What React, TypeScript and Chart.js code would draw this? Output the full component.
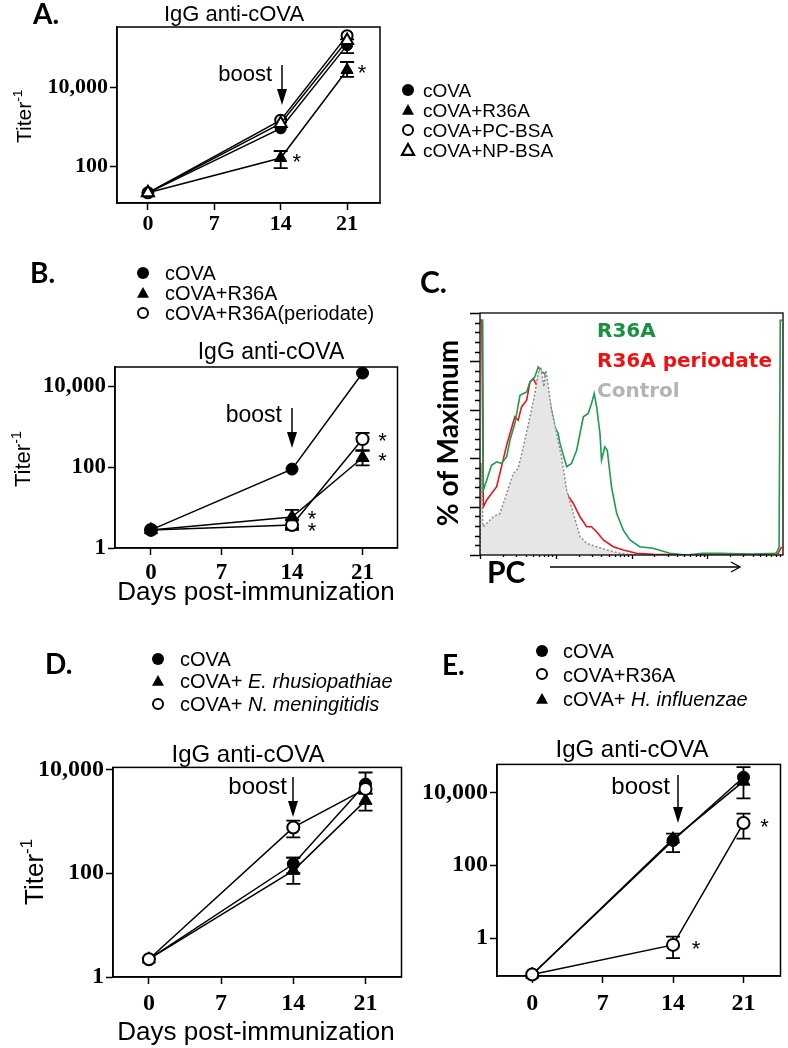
import React, { useEffect, useRef } from 'react';
import { Chart, registerables } from 'chart.js';
Chart.register(...registerables);

// ---------------- DATA ----------------
const days = [0, 14, 21];
const dayTicks = [0, 7, 14, 21];
const titerTicks = [1, 100, 10000];

// Panel A
const aCOVA = [21, 900, 115000];
const aCOVALow = [null, null, 72000];
const aCOVAHigh = [null, null, 160000];
const aR36A = [21, 160, 27000];
const aR36ALow = [null, 89, 18000];
const aR36AHigh = [null, 240, 43000];
const aPCBSA = [21, 1450, 200000];
const aNPBSA = [21, 1200, 150000];

// Panel B
const bCOVA = [2.8, 89, 21000];
const bR36A = [2.8, 5.8, 170];
const bR36ALow = [null, 3.1, 110];
const bR36AHigh = [null, 8.7, 260];
const bPeriodate = [2.8, 3.7, 490];
const bPeriodateLow = [null, 2.8, 250];
const bPeriodateHigh = [null, 5.0, 700];

// Panel D
const dCOVA = [2.2, 150, 5200];
const dCOVALow = [null, 100, 3400];
const dCOVAHigh = [null, 200, 8700];
const dErh = [2.2, 112, 2500];
const dErhLow = [null, 62, 1600];
const dErhHigh = [null, 200, 3400];
const dNmen = [2.2, 760, 4200];
const dNmenLow = [null, 490, null];
const dNmenHigh = [null, 1030, null];

// Panel E
const eCOVA = [0.1, 480, 26000];
const eCOVALow = [null, 230, 6800];
const eCOVAHigh = [null, 740, 49000];
const eR36A = [0.1, 0.65, 1440];
const eR36ALow = [null, 0.28, 540];
const eR36AHigh = [null, 1.1, 2600];
const eHinf = [0.1, 520, 20000];

// Panel C (x: % of axis width, y: % of maximum)
const histR36A = [
  [0.2, 97], [0.9, 97], [1.1, 26.8], [2.2, 30.9], [3.8, 37.1], [5.5, 38.5], [7.1, 37.8], [8.8, 40.6],
  [9.9, 47.5], [11.5, 54.3], [13.2, 66.0], [15.4, 67.4], [16.5, 71.5], [18.1, 73.6], [19.2, 77.7],
  [20.3, 75.7], [21.4, 75.0], [22.5, 66.7], [23.6, 59.8], [24.7, 53.0], [25.8, 50.2], [26.4, 46.1],
  [28.6, 36.5], [30.2, 37.8], [31.9, 43.3], [34.1, 57.1], [35.7, 58.5], [36.8, 62.6], [37.7, 66.7],
  [38.5, 61.2], [39.6, 50.2], [40.1, 39.2], [41.2, 44.7], [42.0, 43.3], [43.4, 28.2], [45.1, 17.2],
  [47.3, 10.3], [49.5, 6.2], [52.7, 3.4], [57.1, 2.8], [62.6, 0.7], [68.1, 0], [73.6, 0.7],
  [79.1, 0.7], [90.1, 0.4], [97.8, 0.7], [98.7, 3.4], [99.1, 97], [99.7, 97],
];
const histPeriodate = [
  [0.1, 97], [0.6, 97], [1.1, 19.9], [2.2, 22.7], [3.8, 25.4], [5.5, 28.2], [7.1, 36.5], [8.8, 45.4],
  [9.9, 50.2], [11.5, 57.1], [12.6, 55.7], [13.7, 61.2], [15.4, 64.0], [16.5, 71.5], [17.6, 72.9],
  [18.7, 70.2], [19.8, 76.3], [20.7, 70.8], [22.0, 61.2], [23.6, 50.2], [25.3, 42.0], [26.9, 35.1],
  [28.6, 25.4], [30.8, 21.3], [33.0, 15.8], [35.2, 11.7], [36.8, 11.7], [38.5, 9.6], [40.7, 6.2],
  [44.0, 3.4], [47.3, 2.1], [51.6, 0.7], [57.1, 0.3], [68.1, 0], [90.1, 0], [98.4, 0.7], [99.5, 3.4],
];
const histControl = [
  [0, 0], [0.3, 38], [1.0, 11.7], [2.2, 13.1], [4.4, 15.8], [6.6, 17.2], [8.8, 25.4], [11.0, 33.7],
  [12.6, 35.8], [14.3, 44.7], [16.5, 57.1], [18.1, 66.7], [19.2, 75.0], [20.1, 77.7], [21.1, 69.5],
  [21.8, 76.3], [23.6, 59.8], [25.3, 50.2], [26.9, 40.6], [28.6, 26.8], [30.8, 17.2], [33.0, 7.6],
  [35.2, 4.8], [38.5, 3.4], [41.8, 2.1], [46.2, 0.7], [51.6, 0], [100, 0],
];

// ---------------- STYLE ----------------
const SANS = "'Liberation Sans', Arial, sans-serif";
const SERIF = "'Liberation Serif', 'Times New Roman', serif";
const LETTER = "Lato, 'Open Sans', sans-serif";
const WIDE = "'DejaVu Sans', sans-serif";

type Marker = 'dot' | 'tri' | 'ring' | 'openTri';
type Series = { label: string; values: number[]; low?: (number | null)[]; high?: (number | null)[]; marker: Marker };
type Star = { ds: number; i: number; dx: number; dy: number };

function makeDataset(s: Series, r: number) {
  const filled = s.marker === 'dot' || s.marker === 'tri';
  const tri = s.marker === 'tri' || s.marker === 'openTri';
  return {
    label: s.label,
    data: days.map((d, i) => ({ x: d, y: s.values[i] })),
    errLow: s.low,
    errHigh: s.high,
    borderColor: '#000',
    borderWidth: 1.5,
    tension: 0,
    fill: false,
    clip: false,
    pointStyle: tri ? 'triangle' : 'circle',
    pointRadius: tri ? r + 1.5 : r,
    pointBackgroundColor: filled ? '#000' : '#fff',
    pointBorderColor: '#000',
    pointBorderWidth: filled ? 1 : 2,
  };
}

const framePlugin = {
  id: 'frame',
  beforeDatasetsDraw(chart: any) {
    const { ctx, chartArea: a } = chart;
    ctx.save();
    ctx.strokeStyle = '#000';
    ctx.lineWidth = 1.5;
    ctx.strokeRect(a.left, a.top, a.right - a.left, a.bottom - a.top);
    ctx.restore();
  },
};

const errorBarPlugin = {
  id: 'errorBars',
  beforeDatasetsDraw(chart: any) {
    const { ctx } = chart;
    const xs = chart.scales.x;
    const ys = chart.scales.y;
    ctx.save();
    ctx.strokeStyle = '#000';
    ctx.lineWidth = 1.8;
    chart.data.datasets.forEach((ds: any) => {
      if (!ds.errLow) return;
      ds.data.forEach((p: any, i: number) => {
        const lo = ds.errLow[i];
        const hi = ds.errHigh[i];
        if (lo == null || hi == null) return;
        const x = xs.getPixelForValue(p.x);
        const y1 = ys.getPixelForValue(lo);
        const y2 = ys.getPixelForValue(hi);
        ctx.beginPath();
        ctx.moveTo(x, y1); ctx.lineTo(x, y2);
        ctx.moveTo(x - 7, y1); ctx.lineTo(x + 7, y1);
        ctx.moveTo(x - 7, y2); ctx.lineTo(x + 7, y2);
        ctx.stroke();
      });
    });
    ctx.restore();
  },
};

type Box = { l: number; t: number; w: number; h: number };

function TiterChart(props: {
  box: Box; series: Series[]; xMin: number; xMax: number; yMin: number; yMax: number;
  font: number; r: number; stars: Star[]; xPad: number; padR?: number;
}) {
  const ref = useRef<HTMLCanvasElement>(null);
  const { box } = props;
  const yW = 90, padTop = 16, xH = 45;
  const padR = props.padR ?? 8;
  const cw = yW + box.w + padR;
  const ch = padTop + box.h + xH;
  useEffect(() => {
    const starPlugin = {
      id: 'stars',
      afterDatasetsDraw(chart: any) {
        const { ctx } = chart;
        ctx.save();
        ctx.fillStyle = '#000';
        ctx.font = `22px ${SANS}`;
        ctx.textAlign = 'center';
        ctx.textBaseline = 'middle';
        props.stars.forEach((s) => {
          const el = chart.getDatasetMeta(s.ds).data[s.i];
          ctx.fillText('*', el.x + s.dx, el.y + s.dy + 5);
        });
        ctx.restore();
      },
    };
    const tickFont = { family: SERIF, size: props.font, weight: 'bold' as const };
    const chart = new Chart(ref.current as HTMLCanvasElement, {
      type: 'line',
      data: { datasets: props.series.map((s) => makeDataset(s, props.r)) as any },
      options: {
        responsive: false,
        animation: false,
        events: [],
        layout: { padding: { top: padTop, right: padR, left: 0, bottom: 0 } },
        plugins: { legend: { display: false }, tooltip: { enabled: false } },
        scales: {
          x: {
            type: 'linear',
            min: props.xMin,
            max: props.xMax,
            afterBuildTicks: (s: any) => { s.ticks = dayTicks.map((v) => ({ value: v })); },
            afterFit: (s: any) => { s.height = xH; },
            ticks: { font: tickFont, color: '#000', padding: props.xPad },
            grid: { display: true, drawOnChartArea: false, tickLength: 7, tickColor: '#000', tickWidth: 1.5 },
            border: { display: true, color: '#000', width: 1.5 },
          },
          y: {
            type: 'logarithmic',
            min: props.yMin,
            max: props.yMax,
            afterBuildTicks: (s: any) => {
              s.ticks = titerTicks.filter((v) => v >= s.min && v <= s.max).map((v) => ({ value: v }));
            },
            afterFit: (s: any) => { s.width = yW; },
            ticks: {
              font: tickFont, color: '#000', padding: 2,
              callback: (v: any) => Number(v).toLocaleString('en-US'),
            },
            grid: { display: true, drawOnChartArea: false, tickLength: 7, tickColor: '#000', tickWidth: 1.5 },
            border: { display: true, color: '#000', width: 1.5 },
          },
        },
      } as any,
      plugins: [framePlugin, errorBarPlugin, starPlugin],
    });
    return () => chart.destroy();
  }, []);
  return (
    <canvas
      ref={ref}
      width={cw}
      height={ch}
      style={{ position: 'absolute', left: box.l - yW, top: box.t - padTop, width: cw, height: ch }}
    />
  );
}

function HistChart() {
  const ref = useRef<HTMLCanvasElement>(null);
  const pad = { left: 15, top: 8, right: 5, bottom: 5 };
  const box = { l: 480, t: 313, w: 303, h: 242 };
  const cw = pad.left + box.w + pad.right;
  const ch = pad.top + box.h + pad.bottom;
  useEffect(() => {
    const axisPlugin = {
      id: 'histAxes',
      afterDraw(chart: any) {
        const { ctx, chartArea: a } = chart;
        const ys = chart.scales.y;
        const xs = chart.scales.x;
        ctx.save();
        ctx.strokeStyle = '#000';
        ctx.lineWidth = 1.3;
        ctx.strokeRect(a.left, a.top, a.right - a.left, a.bottom - a.top);
        ctx.beginPath();
        for (let v = 0; v <= 100; v += 4) {
          const y = Math.round(ys.getPixelForValue(v)) + 0.5;
          const len = v % 20 === 0 ? 10 : 5;
          ctx.moveTo(a.left - len, y);
          ctx.lineTo(a.left, y);
        }
        for (let d = 0; d < 4; d++) {
          for (let m = 1; m <= 9; m++) {
            const x = Math.round(xs.getPixelForValue((d + Math.log10(m)) * 25)) + 0.5;
            const len = m === 1 ? 4 : 2;
            ctx.moveTo(x, a.bottom);
            ctx.lineTo(x, a.bottom + len);
          }
        }
        ctx.stroke();
        ctx.restore();
      },
    };
    const toPts = (arr: number[][]) => arr.map(([x, y]) => ({ x, y }));
    const chart = new Chart(ref.current as HTMLCanvasElement, {
      type: 'line',
      data: {
        datasets: [
          {
            label: 'Control', data: toPts(histControl), fill: 'origin', backgroundColor: '#e6e6e6',
            borderColor: '#8c8c8c', borderDash: [2, 2], borderWidth: 1.5, pointRadius: 0, tension: 0,
          },
          {
            label: 'R36A', data: toPts(histR36A), fill: false, borderColor: '#1e9a4c',
            borderWidth: 1.6, pointRadius: 0, tension: 0,
          },
          {
            label: 'R36A periodate', data: toPts(histPeriodate), fill: false, borderColor: '#e8141c',
            borderWidth: 1.6, pointRadius: 0, tension: 0,
          },
        ] as any,
      },
      options: {
        responsive: false,
        animation: false,
        events: [],
        layout: { padding: pad },
        plugins: { legend: { display: false }, tooltip: { enabled: false } },
        scales: {
          x: { type: 'linear', min: 0, max: 100, display: false },
          y: { type: 'linear', min: 0, max: 100, display: false },
        },
      } as any,
      plugins: [axisPlugin],
    });
    return () => chart.destroy();
  }, []);
  return (
    <canvas
      ref={ref}
      width={cw}
      height={ch}
      style={{ position: 'absolute', left: box.l - pad.left, top: box.t - pad.top, width: cw, height: ch }}
    />
  );
}

function Mk({ type, x, y, r = 6 }: { type: Marker; x: number; y: number; r?: number }) {
  if (type === 'dot') return <circle cx={x} cy={y} r={r} fill="#000" />;
  if (type === 'ring') return <circle cx={x} cy={y} r={r - 1} fill="#fff" stroke="#000" strokeWidth={2} />;
  const pts = `${x},${y - r} ${x + r},${y + r * 0.8} ${x - r},${y + r * 0.8}`;
  if (type === 'tri') return <polygon points={pts} fill="#000" />;
  return <polygon points={pts} fill="#fff" stroke="#000" strokeWidth={2.2} strokeLinejoin="miter" />;
}

function Arrow({ x, y1, y2 }: { x: number; y1: number; y2: number }) {
  return (
    <g>
      <line x1={x} y1={y1} x2={x} y2={y2 - 10} stroke="#000" strokeWidth={1.5} />
      <polygon points={`${x - 5},${y2 - 16} ${x + 5},${y2 - 16} ${x},${y2}`} fill="#000" />
    </g>
  );
}

function YTitle({ x, y, size }: { x: number; y: number; size: number }) {
  return (
    <text transform={`translate(${x},${y}) rotate(-90)`} fontFamily={SANS} fontSize={size} fill="#000">
      Titer<tspan dy={-size * 0.42} fontSize={size * 0.65}>-1</tspan>
    </text>
  );
}

function Overlay() {
  const T = (p: any) => <text fontFamily={SANS} fill="#000" {...p} />;
  const L = (p: any) => <text fontFamily={LETTER} fontWeight="bold" fill="#000" {...p} />;
  return (
    <svg width={788} height={1048} style={{ position: 'absolute', left: 0, top: 0, pointerEvents: 'none' }}>
      {/* Panel A */}
      <L x={33} y={24} fontSize={28}>A.</L>
      <T x={234} y={21} fontSize={22} textAnchor="middle">IgG anti-cOVA</T>
      <T x={272} y={81} fontSize={22} textAnchor="end">boost</T>
      <Arrow x={282} y1={65} y2={105} />
      <YTitle x={31} y={143} size={21} />
      <Mk type="dot" x={408} y={90} />
      <Mk type="tri" x={408} y={110} />
      <Mk type="ring" x={408} y={130} />
      <Mk type="openTri" x={408} y={150} />
      <T x={423} y={97} fontSize={19}>cOVA</T>
      <T x={423} y={117} fontSize={19}>cOVA+R36A</T>
      <T x={423} y={137} fontSize={19}>cOVA+PC-BSA</T>
      <T x={423} y={157} fontSize={19}>cOVA+NP-BSA</T>

      {/* Panel B */}
      <L x={30} y={283} fontSize={28}>B.</L>
      <Mk type="dot" x={143} y={273} />
      <Mk type="tri" x={143} y={293} />
      <Mk type="ring" x={143} y={313} />
      <T x={165} y={280} fontSize={20}>cOVA</T>
      <T x={165} y={300} fontSize={20}>cOVA+R36A</T>
      <T x={165} y={320} fontSize={20}>cOVA+R36A(periodate)</T>
      <T x={271} y={359} fontSize={23} textAnchor="middle">IgG anti-cOVA</T>
      <T x={282} y={422} fontSize={23} textAnchor="end">boost</T>
      <Arrow x={292} y1={408} y2={448} />
      <YTitle x={30} y={487} size={22} />
      <T x={256} y={600} fontSize={26} textAnchor="middle">Days post-immunization</T>

      {/* Panel C */}
      <L x={420} y={293} fontSize={30}>C.</L>
      <text transform="translate(458,433) rotate(-90)" fontFamily={LETTER} fontWeight="bold" fontSize={28} textAnchor="middle" fill="#000">% of Maximum</text>
      <L x={487} y={583} fontSize={30}>PC</L>
      <line x1={550} y1={567} x2={740} y2={567} stroke="#000" strokeWidth={1.3} />
      <polyline points="731,562 740,567 731,572" fill="none" stroke="#000" strokeWidth={1.3} />
      <text x={597} y={337} fontFamily={WIDE} fontWeight="bold" fontSize={20} fill="#17913f">R36A</text>
      <text x={597} y={367} fontFamily={WIDE} fontWeight="bold" fontSize={20} fill="#ee1111">R36A periodate</text>
      <text x={597} y={397} fontFamily={WIDE} fontWeight="bold" fontSize={20} fill="#b4b4b4">Control</text>

      {/* Panel D */}
      <L x={45} y={674} fontSize={28}>D.</L>
      <Mk type="dot" x={158} y={659} />
      <Mk type="tri" x={158} y={681} />
      <Mk type="ring" x={158} y={704} />
      <T x={180} y={666} fontSize={20}>cOVA</T>
      <T x={180} y={688} fontSize={20}>cOVA+ <tspan fontStyle="italic">E. rhusiopathiae</tspan></T>
      <T x={180} y={711} fontSize={20}>cOVA+ <tspan fontStyle="italic">N. meningitidis</tspan></T>
      <T x={248} y={762} fontSize={24} textAnchor="middle">IgG anti-cOVA</T>
      <T x={287} y={794} fontSize={24} textAnchor="end">boost</T>
      <Arrow x={293} y1={777} y2={817} />
      <YTitle x={43} y={905} size={26} />
      <T x={256} y={1040} fontSize={26} textAnchor="middle">Days post-immunization</T>

      {/* Panel E */}
      <L x={442} y={675} fontSize={28}>E.</L>
      <Mk type="dot" x={542} y={651} />
      <Mk type="ring" x={542} y={674} />
      <Mk type="tri" x={542} y={699} />
      <T x={563} y={658} fontSize={20}>cOVA</T>
      <T x={563} y={682} fontSize={20}>cOVA+R36A</T>
      <T x={563} y={706} fontSize={20}>cOVA+ <tspan fontStyle="italic">H. influenzae</tspan></T>
      <T x={632} y={757} fontSize={24} textAnchor="middle">IgG anti-cOVA</T>
      <T x={670} y={794} fontSize={24} textAnchor="end">boost</T>
      <Arrow x={678} y1={775} y2={823} />
    </svg>
  );
}

export default function App() {
  const seriesA: Series[] = [
    { label: 'cOVA+NP-BSA', values: aNPBSA, marker: 'openTri' },
    { label: 'cOVA+PC-BSA', values: aPCBSA, marker: 'ring' },
    { label: 'cOVA+R36A', values: aR36A, low: aR36ALow, high: aR36AHigh, marker: 'tri' },
    { label: 'cOVA', values: aCOVA, low: aCOVALow, high: aCOVAHigh, marker: 'dot' },
  ];
  const seriesB: Series[] = [
    { label: 'cOVA', values: bCOVA, marker: 'dot' },
    { label: 'cOVA+R36A', values: bR36A, low: bR36ALow, high: bR36AHigh, marker: 'tri' },
    { label: 'cOVA+R36A(periodate)', values: bPeriodate, low: bPeriodateLow, high: bPeriodateHigh, marker: 'ring' },
  ];
  const seriesD: Series[] = [
    { label: 'cOVA+ N. meningitidis', values: dNmen, low: dNmenLow, high: dNmenHigh, marker: 'ring' },
    { label: 'cOVA+ E. rhusiopathiae', values: dErh, low: dErhLow, high: dErhHigh, marker: 'tri' },
    { label: 'cOVA', values: dCOVA, low: dCOVALow, high: dCOVAHigh, marker: 'dot' },
  ];
  const seriesE: Series[] = [
    { label: 'cOVA+R36A', values: eR36A, low: eR36ALow, high: eR36AHigh, marker: 'ring' },
    { label: 'cOVA+ H. influenzae', values: eHinf, marker: 'tri' },
    { label: 'cOVA', values: eCOVA, low: eCOVALow, high: eCOVAHigh, marker: 'dot' },
  ];
  return (
    <div style={{ position: 'absolute', left: 0, top: 0, width: 788, height: 1048, overflow: 'hidden', background: '#fff' }}>
      <TiterChart
        box={{ l: 117, t: 27, w: 264, h: 176 }} series={seriesA} xMin={-3.26} xMax={24.47}
        yMin={11.6} yMax={331000} font={22} r={5.5} xPad={1}
        stars={[{ ds: 2, i: 1, dx: 16, dy: 0 }, { ds: 2, i: 2, dx: 15, dy: -1 }]}
      />
      <TiterChart
        box={{ l: 115, t: 367, w: 283, h: 181 }} series={seriesB} xMin={-3.57} xMax={24.47}
        yMin={1} yMax={29600} font={23} r={6} xPad={4}
        stars={[{ ds: 1, i: 1, dx: 20, dy: -2 }, { ds: 2, i: 1, dx: 20, dy: 2 }, { ds: 2, i: 2, dx: 20, dy: -2 }, { ds: 1, i: 2, dx: 20, dy: -1 }]}
      />
      <HistChart />
      <TiterChart
        box={{ l: 113, t: 767, w: 289, h: 210 }} series={seriesD} xMin={-3.48} xMax={24.49}
        yMin={1} yMax={10900} font={24} r={6} xPad={5} stars={[]}
      />
      <TiterChart
        box={{ l: 497, t: 764, w: 290, h: 212 }} series={seriesE} xMin={-3.5} xMax={24.68}
        yMin={0.091} yMax={58500} font={24} r={6} xPad={6} padR={2}
        stars={[{ ds: 0, i: 1, dx: 23, dy: 0 }, { ds: 0, i: 2, dx: 21, dy: 0 }]}
      />
      <Overlay />
    </div>
  );
}
